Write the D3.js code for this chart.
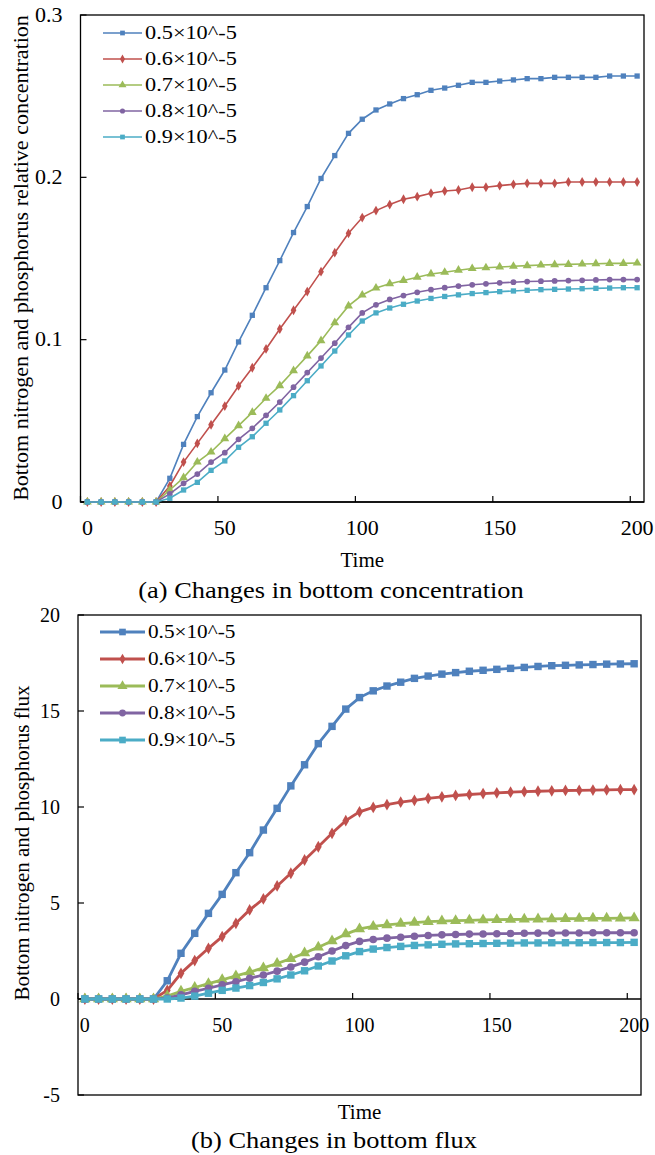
<!DOCTYPE html>
<html>
<head>
<meta charset="utf-8">
<script src="https://cdn.jsdelivr.net/npm/d3@7"></script>
<style>
  body { margin: 0; background: #fff; }
  text { font-family: "Liberation Serif", "Times New Roman", serif; fill: #000; }
</style>
</head>
<body>
<div id="chart"></div>
<script>
// time categories (Excel line chart, one category every 5)
const times = [0, 5, 10, 15, 20, 25, 30, 35, 40, 45, 50, 55, 60, 65, 70, 75, 80, 85, 90, 95,
  100, 105, 110, 115, 120, 125, 130, 135, 140, 145, 150, 155, 160, 165, 170, 175, 180, 185, 190, 195, 200];
const xTicks = [0, 50, 100, 150, 200];
const seriesNames = ['0.5×10^-5', '0.6×10^-5', '0.7×10^-5', '0.8×10^-5', '0.9×10^-5'];
const colors = ['#4f81bd', '#c0504d', '#9bbb59', '#8064a2', '#4bacc6'];
const shapes = [d3.symbolSquare, d3.symbolDiamond, d3.symbolTriangle, d3.symbolCircle, d3.symbolSquare];

// (a) bottom relative concentration
const conc05 = [0, 0, 0, 0, 0, 0, 0.0146, 0.0355, 0.0526, 0.0673, 0.0813, 0.0986, 0.115, 0.132, 0.1487, 0.166, 0.182, 0.1993, 0.2134, 0.2271,
  0.2358, 0.2415, 0.2452, 0.2485, 0.2509, 0.2536, 0.255, 0.2567, 0.2585, 0.2585, 0.2593, 0.26, 0.2608, 0.2608, 0.2616, 0.2616, 0.2616, 0.2616, 0.2624, 0.2624, 0.2624];
const conc06 = [0, 0, 0, 0, 0, 0, 0.0099, 0.0246, 0.0361, 0.0476, 0.0591, 0.0715, 0.0827, 0.0943, 0.1066, 0.1181, 0.1296, 0.1419, 0.1536, 0.1655,
  0.1752, 0.1795, 0.1832, 0.1865, 0.1881, 0.1902, 0.1916, 0.1922, 0.1939, 0.1939, 0.1949, 0.1957, 0.1963, 0.1963, 0.1963, 0.1971, 0.1971, 0.1971, 0.1971, 0.1971, 0.1971];
const conc07 = [0, 0, 0, 0, 0, 0, 0.0074, 0.015, 0.0246, 0.0308, 0.039, 0.047, 0.0552, 0.0639, 0.0717, 0.0809, 0.09, 0.0994, 0.1105, 0.1208,
  0.1275, 0.1318, 0.1345, 0.1365, 0.1385, 0.1405, 0.1415, 0.1428, 0.1438, 0.1443, 0.1448, 0.1452, 0.1456, 0.146, 0.1462, 0.1464, 0.1466, 0.1468, 0.147, 0.147, 0.1472];
const conc08 = [0, 0, 0, 0, 0, 0, 0.005, 0.0115, 0.0172, 0.0246, 0.0304, 0.0386, 0.0454, 0.0534, 0.0616, 0.0707, 0.0797, 0.0887, 0.0978, 0.1076,
  0.1165, 0.1215, 0.1248, 0.1272, 0.1292, 0.1308, 0.132, 0.133, 0.1338, 0.1344, 0.135, 0.1354, 0.1358, 0.136, 0.1362, 0.1364, 0.1366, 0.1368, 0.137, 0.137, 0.137];
const conc09 = [0, 0, 0, 0, 0, 0, 0.0023, 0.0074, 0.0121, 0.0195, 0.0253, 0.0337, 0.0402, 0.0485, 0.0567, 0.0655, 0.0747, 0.0838, 0.093, 0.1029,
  0.1115, 0.1165, 0.1195, 0.1218, 0.1238, 0.1254, 0.1266, 0.1276, 0.1284, 0.129, 0.1296, 0.13, 0.1304, 0.1308, 0.131, 0.1312, 0.1314, 0.1316, 0.1318, 0.132, 0.132];

// (b) bottom flux
const flux05 = [0, 0, 0, 0, 0, 0, 0.95, 2.38, 3.42, 4.46, 5.45, 6.58, 7.62, 8.8, 9.93, 11.1, 12.2, 13.3, 14.2, 15.1,
  15.7, 16.05, 16.3, 16.5, 16.7, 16.82, 16.92, 17.0, 17.07, 17.12, 17.17, 17.22, 17.27, 17.32, 17.36, 17.38, 17.4, 17.42, 17.44, 17.45, 17.46];
const flux06 = [0, 0, 0, 0, 0, 0, 0.45, 1.34, 2.0, 2.64, 3.25, 3.94, 4.64, 5.21, 5.89, 6.55, 7.24, 7.93, 8.63, 9.29,
  9.75, 9.98, 10.12, 10.25, 10.35, 10.45, 10.53, 10.6, 10.65, 10.7, 10.74, 10.77, 10.8, 10.82, 10.84, 10.86, 10.87, 10.88, 10.89, 10.9, 10.9];
const flux07 = [0, 0, 0, 0, 0, 0, 0.15, 0.4, 0.6, 0.8, 1.0, 1.2, 1.4, 1.62, 1.85, 2.1, 2.4, 2.7, 3.02, 3.38,
  3.65, 3.78, 3.86, 3.93, 3.98, 4.03, 4.06, 4.08, 4.1, 4.12, 4.13, 4.14, 4.15, 4.16, 4.17, 4.18, 4.19, 4.2, 4.2, 4.21, 4.22];
const flux08 = [0, 0, 0, 0, 0, 0, 0.05, 0.22, 0.4, 0.56, 0.74, 0.9, 1.08, 1.25, 1.45, 1.67, 1.92, 2.2, 2.5, 2.78,
  3.0, 3.1, 3.17, 3.22, 3.27, 3.31, 3.34, 3.36, 3.38, 3.39, 3.4, 3.41, 3.42, 3.43, 3.43, 3.44, 3.44, 3.45, 3.45, 3.45, 3.45];
const flux09 = [0, 0, 0, 0, 0, 0, 0, 0.05, 0.15, 0.3, 0.45, 0.57, 0.7, 0.86, 1.05, 1.25, 1.47, 1.72, 1.98, 2.25,
  2.47, 2.6, 2.68, 2.74, 2.79, 2.82, 2.85, 2.87, 2.88, 2.89, 2.9, 2.91, 2.92, 2.92, 2.93, 2.93, 2.93, 2.94, 2.94, 2.94, 2.95];

const concTicks = [0, 0.1, 0.2, 0.3];
const fluxTicks = [-5, 0, 5, 10, 15, 20];

const svg = d3.select('#chart').append('svg')
  .attr('width', 655)
  .attr('height', 1155);

// text with a bit of horizontal stretch, like the scanned figure
const label = (g, x, y, str, size, anchor, sx = 1) =>
  g.append('text')
    .attr('transform', `translate(${x},${y}) scale(${sx},1)`)
    .attr('text-anchor', anchor)
    .attr('dominant-baseline', 'central')
    .style('font-size', size + 'px')
    .text(str);

function drawPanel(p) {
  const g = svg.append('g');
  const x = d3.scaleBand().domain(times).range([p.left, p.right]);
  const cx = t => x(t) + x.bandwidth() / 2;
  const y = d3.scaleLinear().domain(p.yDomain).range([p.bottom, p.top]);

  // box
  g.append('rect')
    .attr('x', p.left).attr('y', p.top)
    .attr('width', p.right - p.left).attr('height', p.bottom - p.top)
    .attr('fill', 'none').attr('stroke', '#000').attr('stroke-width', 1.3);

  // x axis on the zero line
  const y0 = y(0);
  g.append('line').attr('x1', p.left).attr('x2', p.right).attr('y1', y0).attr('y2', y0)
    .attr('stroke', '#000').attr('stroke-width', 1.3);
  xTicks.forEach(t => {
    g.append('line').attr('x1', x(t)).attr('x2', x(t)).attr('y1', y0).attr('y2', y0 - 6)
      .attr('stroke', '#000').attr('stroke-width', 1.2);
    label(g, cx(t), y0 + p.xLabelDy, t, p.tickSize, 'middle', p.tickSx);
  });
  label(g, cx(100), p.timeY, 'Time', p.axisTitleSize, 'middle');

  // y axis ticks
  p.yTicks.forEach(v => {
    g.append('line').attr('x1', p.left).attr('x2', p.left + 6).attr('y1', y(v)).attr('y2', y(v))
      .attr('stroke', '#000').attr('stroke-width', 1.2);
    label(g, p.left - p.yLabelPad, y(v), v, p.tickSize, 'end', p.tickSx);
  });
  g.append('text')
    .attr('transform', `translate(${p.yTitleX},${p.yTitleY}) rotate(-90)`)
    .attr('text-anchor', 'middle')
    .attr('dominant-baseline', 'central')
    .style('font-size', p.yTitleSize + 'px')
    .text(p.yTitle);

  // series
  const line = d3.line().x((d, i) => cx(times[i])).y(d => y(d));
  p.series.forEach((vals, k) => {
    g.append('path').datum(vals)
      .attr('d', line)
      .attr('fill', 'none')
      .attr('stroke', colors[k])
      .attr('stroke-width', p.lineW);
    g.append('g').selectAll('path').data(vals).join('path')
      .attr('transform', (d, i) => `translate(${cx(times[i])},${y(d)})`)
      .attr('d', d3.symbol().type(shapes[k]).size(p.markSize[k]))
      .attr('fill', colors[k]);
  });

  // legend
  seriesNames.forEach((name, k) => {
    const ly = p.legY + k * p.legDy;
    g.append('line').attr('x1', p.legX).attr('x2', p.legX + p.legLen).attr('y1', ly).attr('y2', ly)
      .attr('stroke', colors[k]).attr('stroke-width', p.lineW);
    g.append('path')
      .attr('transform', `translate(${p.legX + p.legLen / 2},${ly})`)
      .attr('d', d3.symbol().type(shapes[k]).size(p.markSize[k] * 0.8))
      .attr('fill', colors[k]);
    label(g, p.legX + p.legLen + 3, ly, name, p.legSize, 'start', p.legSx);
  });

  // caption
  label(g, p.capX, p.capY, p.caption, p.capSize, 'middle', p.capSx);
}

drawPanel({
  left: 80.5, right: 644, top: 15, bottom: 502,
  yDomain: [0, 0.3], yTicks: concTicks, yLabelPad: 18,
  series: [conc05, conc06, conc07, conc08, conc09],
  lineW: 1.6, markSize: [28, 28, 34, 26, 28],
  tickSize: 20, tickSx: 1.1, xLabelDy: 26,
  axisTitleSize: 21, timeY: 560,
  yTitle: 'Bottom nitrogen and phosphorus relative concentration', yTitleSize: 22, yTitleX: 20, yTitleY: 258,
  legX: 103, legY: 33, legDy: 26, legLen: 39, legSize: 18, legSx: 1.24,
  caption: '(a) Changes in bottom concentration', capX: 331, capY: 590, capSize: 24, capSx: 1.1
});

drawPanel({
  left: 78, right: 641, top: 615, bottom: 1095,
  yDomain: [-5, 20], yTicks: fluxTicks, yLabelPad: 18,
  series: [flux05, flux06, flux07, flux08, flux09],
  lineW: 2.8, markSize: [55, 40, 55, 45, 55],
  tickSize: 20, tickSx: 1.0, xLabelDy: 26,
  axisTitleSize: 21, timeY: 1112,
  yTitle: 'Bottom nitrogen and phosphorus flux', yTitleSize: 21, yTitleX: 22, yTitleY: 843,
  legX: 100, legY: 632, legDy: 27, legLen: 45, legSize: 18, legSx: 1.18,
  caption: '(b) Changes in bottom flux', capX: 334, capY: 1140, capSize: 24, capSx: 1.1
});
</script>
</body>
</html>
